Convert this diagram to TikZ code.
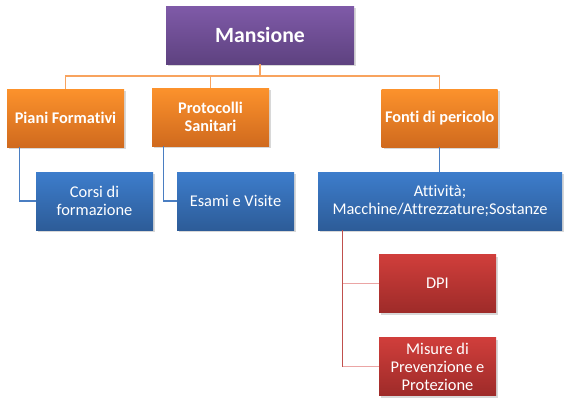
\documentclass[tikz,border=0pt]{standalone}
\usepackage{fontspec}
\setmainfont{Carlito}[Ligatures={NoCommon}]
\usetikzlibrary{shadows,calc}
\definecolor{purT}{HTML}{7F5AA8}
\definecolor{purB}{HTML}{5E4280}
\definecolor{orT}{HTML}{FC922C}
\definecolor{orB}{HTML}{D06A1E}
\definecolor{blT}{HTML}{3D7DCC}
\definecolor{blB}{HTML}{2D5C98}
\definecolor{rdT}{HTML}{D03E3B}
\definecolor{rdB}{HTML}{9E2B29}
\definecolor{orLine}{HTML}{F8A35E}
\definecolor{blLine}{HTML}{4A7EC2}
\definecolor{rdLine}{HTML}{C0504D}
\definecolor{rdLight}{HTML}{EBA5A4}
\tikzset{
  box/.style={rectangle, inner sep=0pt, align=center, text=white,
    minimum width=117*0.75pt, minimum height=58*0.75pt,
    drop shadow={shadow xshift=1.5pt, shadow yshift=-1.5pt, opacity=0.25, fill=black!60}},
  purbox/.style={box, top color=purT, bottom color=purB, font=\fontsize{16.3}{19}\selectfont\bfseries},
  orbox/.style={box, top color=orT, bottom color=orB, font=\fontsize{12.2}{13.6}\selectfont\bfseries},
  blbox/.style={box, top color=blT, bottom color=blB, font=\fontsize{12.3}{13.4}\selectfont},
  rdbox/.style={box, top color=rdT, bottom color=rdB, font=\fontsize{12.3}{13.5}\selectfont},
  orcon/.style={draw=orLine, line width=0.8pt},
  blcon/.style={draw=blLine, line width=1.1pt},
  rdcon/.style={draw=rdLine, line width=0.8pt},
  rdhcon/.style={draw=rdLight, line width=1pt},
}
\begin{document}
\begin{tikzpicture}[x=0.75pt,y=-0.75pt]
\useasboundingbox (0,0) rectangle (577,405);
\fill[white] (0,0) rectangle (577,405);
\node[purbox, minimum width=188*0.75pt] (m) at (260,35) {Mansione};
\node[orbox] (pf) at (65.5,118) {Piani Formativi};
\node[orbox] (ps) at (210.5,117) {Protocolli\\Sanitari};
\node[orbox, minimum width=116*0.75pt] (fp) at (439.6,118) {Fonti di pericolo};
\node[blbox] (cf) at (94.5,201) {Corsi di\\formazione};
\node[blbox] (ev) at (235.5,201) {Esami e Visite};
\node[blbox, minimum width=244*0.75pt] (at) at (440,201) {Attività;\\Macchine/Attrezzature;Sostanze};
\node[rdbox] (dpi) at (437.5,283.5) {DPI};
\node[rdbox] (mis) at (437.5,366.5) {Misure di\\Prevenzione e\\Protezione};
\coordinate (bus) at (0,76);
\draw[orcon] (m.south) -- (m.south |- bus);
\draw[orcon] (pf.north) |- (m.south |- bus) -| (fp.north);
\draw[orcon] (ps.north) -- (ps.north |- bus);
\draw[blcon] ($(pf.south west)+(13,0)$) |- (cf.west);
\draw[blcon] ($(ps.south west)+(12,0)$) |- (ev.west);
\draw[blcon] (fp.south) -- (fp.south |- at.north);
\coordinate (rv) at ($(at.south west)+(25,0)$);
\draw[rdhcon] (rv |- dpi.west) -- (dpi.west);
\draw[rdhcon] (rv |- mis.west) -- (mis.west);
\draw[rdcon] (rv) -- (rv |- mis.west);
\end{tikzpicture}
\end{document}
